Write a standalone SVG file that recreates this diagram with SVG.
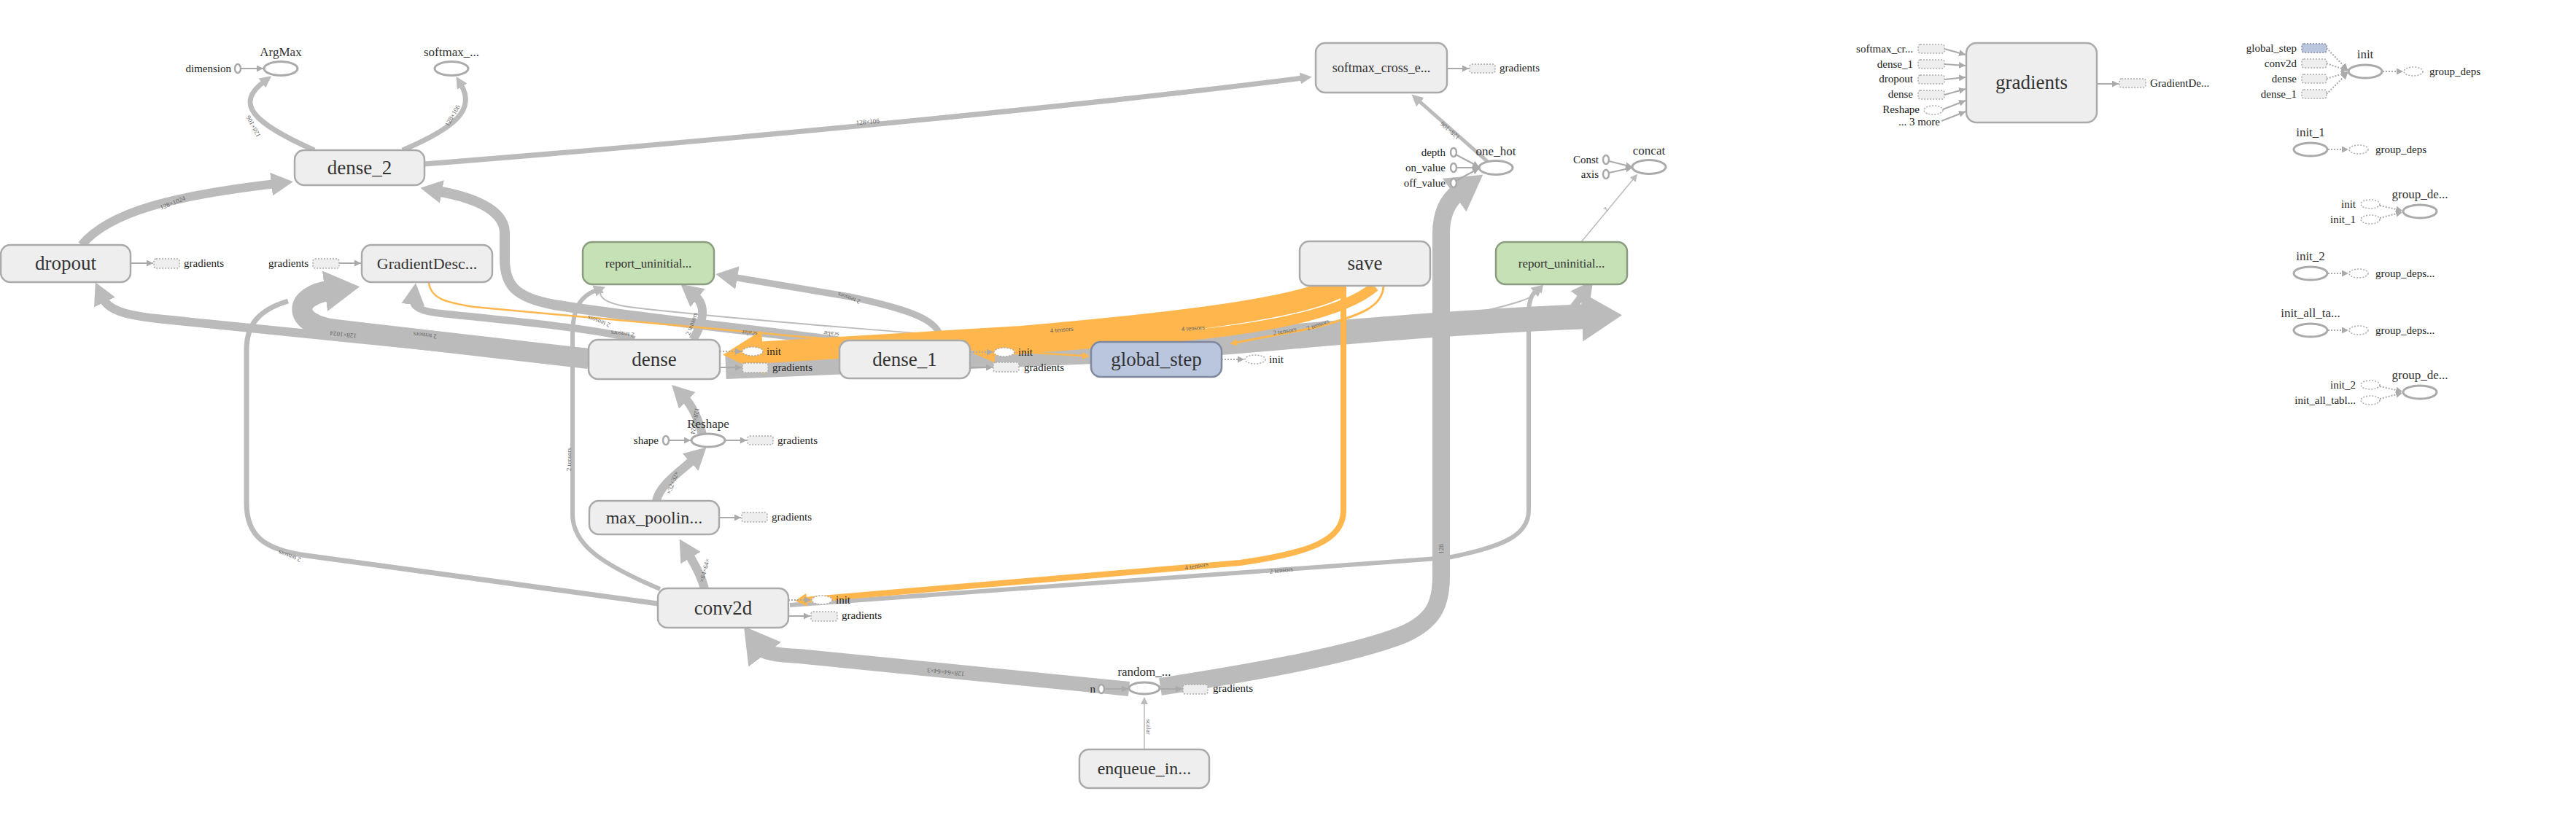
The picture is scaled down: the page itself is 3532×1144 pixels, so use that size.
<svg xmlns="http://www.w3.org/2000/svg" width="3532" height="1144" viewBox="0 0 3532 1144">
<style>
text{font-family:"Liberation Serif","Times New Roman",serif}
.nl{fill:#333;text-anchor:middle}
.sl{fill:#222;font-size:15px}
.sr{fill:#222;font-size:15px;text-anchor:end}
.el{fill:#666;font-size:9px;text-anchor:middle}
.meta{fill:#eeeeee;stroke:#aaaaaa;stroke-width:2.5}
.grn{fill:#c5e1b5;stroke:#8b9d80;stroke-width:2.5}
.blu{fill:#bac5de;stroke:#7f889f;stroke-width:2.5}
.op{fill:#fff;stroke:#aaaaaa;stroke-width:3}
.cst{fill:#fff;stroke:#aaaaaa;stroke-width:2.5}
.sr2{fill:#eeeeee;stroke:#aaaaaa;stroke-width:1.5;stroke-dasharray:2 2}
.sbl{fill:#bac5de;stroke:#7f889f;stroke-width:1.5;stroke-dasharray:2 2}
.se{fill:#fff;stroke:#aaaaaa;stroke-width:1.5;stroke-dasharray:2 2}
.sa{fill:none;stroke:#aaaaaa;stroke-width:2;marker-end:url(#sa)}
.sd{fill:none;stroke:#aaaaaa;stroke-width:2;stroke-dasharray:2 2;marker-end:url(#sa)}
.e{fill:none;stroke:#bbbbbb}
.o{fill:none;stroke:#ffb74d}
</style>
<defs>
<marker id="sa" markerUnits="userSpaceOnUse" markerWidth="9" markerHeight="9" viewBox="0 0 10 10" refX="10" refY="5" orient="auto"><path d="M0,0L10,5L0,10z" fill="#aaaaaa"/></marker>
<marker id="aS" markerUnits="userSpaceOnUse" markerWidth="10" markerHeight="10" viewBox="0 0 10 10" refX="2" refY="5" orient="auto" preserveAspectRatio="none"><path d="M0,0L10,5L0,10z" fill="#bbbbbb"/></marker>
<marker id="aM" markerUnits="userSpaceOnUse" markerWidth="16" markerHeight="16" viewBox="0 0 10 10" refX="2" refY="5" orient="auto" preserveAspectRatio="none"><path d="M0,0L10,5L0,10z" fill="#bbbbbb"/></marker>
<marker id="aL" markerUnits="userSpaceOnUse" markerWidth="30" markerHeight="32" viewBox="0 0 10 10" refX="2" refY="5" orient="auto" preserveAspectRatio="none"><path d="M0,0L10,5L0,10z" fill="#bbbbbb"/></marker>
<marker id="aXL" markerUnits="userSpaceOnUse" markerWidth="48" markerHeight="56" viewBox="0 0 10 10" refX="2" refY="5" orient="auto" preserveAspectRatio="none"><path d="M0,0L10,5L0,10z" fill="#bbbbbb"/></marker>
<marker id="aXXL" markerUnits="userSpaceOnUse" markerWidth="55" markerHeight="68" viewBox="0 0 10 10" refX="2" refY="5" orient="auto" preserveAspectRatio="none"><path d="M0,0L10,5L0,10z" fill="#bbbbbb"/></marker>
<marker id="oS" markerUnits="userSpaceOnUse" markerWidth="10" markerHeight="10" viewBox="0 0 10 10" refX="2" refY="5" orient="auto" preserveAspectRatio="none"><path d="M0,0L10,5L0,10z" fill="#ffb74d"/></marker>
<marker id="oM" markerUnits="userSpaceOnUse" markerWidth="16" markerHeight="18" viewBox="0 0 10 10" refX="2" refY="5" orient="auto" preserveAspectRatio="none"><path d="M0,0L10,5L0,10z" fill="#ffb74d"/></marker>
<marker id="oL" markerUnits="userSpaceOnUse" markerWidth="30" markerHeight="32" viewBox="0 0 10 10" refX="2" refY="5" orient="auto" preserveAspectRatio="none"><path d="M0,0L10,5L0,10z" fill="#ffb74d"/></marker>
<marker id="oXXL" markerUnits="userSpaceOnUse" markerWidth="55" markerHeight="60" viewBox="0 0 10 10" refX="2" refY="5" orient="auto" preserveAspectRatio="none"><path d="M0,0L10,5L0,10z" fill="#ffb74d"/></marker>
</defs>
<rect width="3532" height="1144" fill="#fff"/>

<g id="connectors">
<path class="e" stroke-width="34" marker-end="url(#aXXL)" d="M995,503 L1500,482 C1700,472 1900,445 2180,434"/>
<path class="e" stroke-width="10" marker-end="url(#aL)" d="M2150,430 C2160,418 2167,408 2170,404"/>
<path class="e" stroke-width="7" marker-end="url(#aM)" d="M431,206 C345,168 322,142 362,112"/>
<path class="e" stroke-width="7" marker-end="url(#aM)" d="M552,206 C625,175 652,150 632,116"/>
<path class="e" stroke-width="7" marker-end="url(#aM)" d="M582,225 C900,200 1450,150 1786,107"/>
<path class="e" stroke-width="12" marker-end="url(#aL)" d="M112,336 C150,290 240,268 378,252"/>
<path class="e" stroke-width="14" marker-end="url(#aL)" d="M1160,470 C1060,455 900,440 760,418 C705,408 692,390 692,355 L692,320 C692,290 655,272 600,262"/>
<path class="e" stroke-width="12" marker-end="url(#aL)" d="M807,497 L215,437 C168,432 148,424 141,409"/>
<path class="e" stroke-width="7" d="M902,828 L420,762 C362,754 338,735 338,690 L338,480 C338,445 355,425 395,413"/>
<path class="e" stroke-width="28" marker-end="url(#aXL)" d="M807,492 L460,452 C400,445 400,405 455,398"/>
<path class="e" stroke-width="10" marker-end="url(#aL)" d="M870,466 C830,452 700,440 605,430 C575,427 566,420 567,412"/>
<path class="e" stroke-width="6" marker-end="url(#aM)" d="M905,808 C820,772 785,745 785,705 L785,460 C785,420 798,405 818,398"/>
<path class="e" stroke-width="12" marker-end="url(#aL)" d="M950,466 C966,440 968,418 952,405"/>
<path class="e" stroke-width="9" marker-end="url(#aL)" d="M1290,467 C1290,440 1250,425 1165,407 L1005,380"/>
<path class="e" stroke-width="2" marker-end="url(#aS)" d="M1500,474 C1300,462 1000,437 870,422 C835,418 822,410 823,400"/>
<path class="e" stroke-width="6" marker-end="url(#aM)" d="M1083,830 L1985,765 C2060,750 2096,735 2096,700 L2096,430 C2096,412 2100,404 2106,399"/>
<path class="e" stroke-width="2" marker-end="url(#aS)" d="M1676,479 L1800,463 C1950,447 2050,425 2085,413 C2100,408 2108,402 2111,398"/>
<path class="e" stroke-width="24" marker-end="url(#aXL)" d="M1591,942 C1700,925 1850,900 1925,870 C1965,852 1976,830 1976,790 L1976,320 C1976,290 1988,272 2002,262"/>
<path class="e" stroke-width="20" marker-end="url(#aXL)" d="M1548,945 L1095,900 Q1049,898 1043,890"/>
<path class="e" stroke-width="1.5" marker-end="url(#aS)" d="M1569,1028 L1569,964"/>
<path class="e" stroke-width="12" marker-end="url(#aL)" d="M966,807 C960,785 950,770 944,760"/>
<path class="e" stroke-width="12" marker-end="url(#aL)" d="M900,687 C904,665 935,645 951,630"/>
<path class="e" stroke-width="12" marker-end="url(#aL)" d="M963,596 C958,575 948,555 938,545"/>
<path class="e" stroke-width="1.5" marker-end="url(#aS)" d="M2168,332 L2240,245"/>
<path class="e" stroke-width="5" marker-end="url(#aM)" d="M2040,222 L1945,138"/>
<path class="o" stroke-width="2.5" marker-end="url(#oS)" d="M588,387 C590,410 612,415 650,421 L1100,462 C1300,478 1400,483 1486,488"/>
<path class="o" stroke-width="30" marker-end="url(#oXXL)" d="M1838,392 C1790,420 1650,440 1400,462 L1035,484"/>
<path class="o" stroke-width="14" marker-end="url(#oL)" d="M1885,393 C1840,432 1720,455 1560,466 L1357,482"/>
<path class="o" stroke-width="3" marker-end="url(#oS)" d="M1897,393 C1895,420 1870,432 1800,450 L1694,470"/>
<path class="o" stroke-width="8" marker-end="url(#oM)" d="M1842,392 L1842,700 C1842,740 1800,758 1700,772 L1103,823"/>
<text class="el" transform="translate(350,172) rotate(242)">128×106</text>
<text class="el" transform="translate(623,160) rotate(-60)">128×106</text>
<text class="el" transform="translate(1190,170) rotate(-5)">128×106</text>
<text class="el" transform="translate(238,281) rotate(-22)">128×1024</text>
<text class="el" transform="translate(1990,177) rotate(221)">128×106</text>
<text class="el" transform="translate(471,456) rotate(186)">128×1024</text>
<text class="el" transform="translate(583,457) rotate(186)">2 tensors</text>
<text class="el" transform="translate(822,438) rotate(200)">2 tensors</text>
<text class="el" transform="translate(854,455) rotate(186)">2 tensors</text>
<text class="el" transform="translate(951,445) rotate(-70)">2 tensors</text>
<text class="el" transform="translate(1165,406) rotate(200)">2 tensors</text>
<text class="el" transform="translate(1028,454) rotate(186)">scalar</text>
<text class="el" transform="translate(1140,455) rotate(186)">scalar</text>
<text class="el" transform="translate(1456,455) rotate(-5)">4 tensors</text>
<text class="el" transform="translate(1636,453) rotate(-5)">4 tensors</text>
<text class="el" transform="translate(1762,457) rotate(-10)">2 tensors</text>
<text class="el" transform="translate(1808,448) rotate(-20)">2 tensors</text>
<text class="el" transform="translate(398,760) rotate(200)">2 tensors</text>
<text class="el" transform="translate(783,630) rotate(-90)">2 tensors</text>
<text class="el" transform="translate(950,577) rotate(100)">128×1024</text>
<text class="el" transform="translate(925,663) rotate(-70)">×32×32×</text>
<text class="el" transform="translate(969,783) rotate(-75)">×64×64×</text>
<text class="el" transform="translate(1297,919) rotate(186)">128×64×64×3</text>
<text class="el" transform="translate(1641,779) rotate(-10)">4 tensors</text>
<text class="el" transform="translate(1757,785) rotate(-6)">2 tensors</text>
<text class="el" transform="translate(1979,753) rotate(-90)">128</text>
<text class="el" transform="translate(1572,997) rotate(90)">scalar</text>
<text class="el" transform="translate(2204,289) rotate(-50)">?</text>
</g>

<g id="node-dense_2"><rect class="meta" x="404" y="206" width="178" height="48" rx="13"/><text class="nl" x="493" y="239" font-size="27">dense_2</text></g>
<g id="node-dropout"><rect class="meta" x="1" y="336" width="178" height="51" rx="13"/><text class="nl" x="90" y="370" font-size="27">dropout</text>
<line class="sa" x1="179" y1="361" x2="210" y2="361"/><rect class="sr2" x="211" y="355" width="35" height="13" rx="3"/><text class="sl" x="252" y="366">gradients</text></g>
<g id="node-GradientDescent"><rect class="meta" x="496" y="336" width="179" height="51" rx="13"/><text class="nl" x="585.5" y="369" font-size="22">GradientDesc...</text>
<text class="sr" x="423" y="366">gradients</text><rect class="sr2" x="429" y="355" width="36" height="13" rx="3"/><line class="sa" x1="465" y1="361" x2="495" y2="361"/></g>
<g id="node-ArgMax"><ellipse class="op" cx="385" cy="94" rx="23" ry="9.5"/><text class="nl" x="385" y="77" font-size="17">ArgMax</text>
<ellipse class="cst" cx="326" cy="94" rx="4" ry="6"/><text class="sr" x="317" y="99">dimension</text><line class="sa" x1="330" y1="94" x2="361" y2="94"/></g>
<g id="node-softmax"><ellipse class="op" cx="619" cy="94" rx="23" ry="9.5"/><text class="nl" x="619" y="77" font-size="17">softmax_...</text></g>
<g id="node-softmax_cross_e"><rect class="meta" x="1804" y="59" width="180" height="68" rx="13"/><text class="nl" x="1894" y="99" font-size="18">softmax_cross_e...</text>
<line class="sa" x1="1984" y1="94" x2="2014" y2="94"/><rect class="sr2" x="2015" y="88" width="35" height="12" rx="3"/><text class="sl" x="2056" y="98">gradients</text></g>
<g id="node-one_hot"><ellipse class="op" cx="2051" cy="230" rx="23" ry="9.5"/><text class="nl" x="2051" y="213" font-size="17">one_hot</text>
<ellipse class="cst" cx="1993" cy="209" rx="4" ry="6"/><ellipse class="cst" cx="1993" cy="230" rx="4" ry="6"/><ellipse class="cst" cx="1993" cy="251" rx="4" ry="6"/>
<text class="sr" x="1982" y="214">depth</text><text class="sr" x="1982" y="235">on_value</text><text class="sr" x="1982" y="256">off_value</text>
<line class="sa" x1="1996" y1="212" x2="2028" y2="229"/><line class="sa" x1="1997" y1="230" x2="2028" y2="230"/><line class="sa" x1="1996" y1="248" x2="2028" y2="231"/></g>
<g id="node-concat"><ellipse class="op" cx="2261" cy="229" rx="23" ry="9.5"/><text class="nl" x="2261" y="212" font-size="17">concat</text>
<ellipse class="cst" cx="2202" cy="219" rx="4" ry="6"/><ellipse class="cst" cx="2202" cy="239" rx="4" ry="6"/>
<text class="sr" x="2192" y="224">Const</text><text class="sr" x="2192" y="244">axis</text>
<line class="sa" x1="2206" y1="221" x2="2238" y2="229"/><line class="sa" x1="2206" y1="237" x2="2238" y2="230"/></g>
<g id="node-report_uninitialized_1"><rect class="grn" x="2051" y="332" width="180" height="58" rx="13"/><text class="nl" x="2141" y="367" font-size="17">report_uninitial...</text></g>
<g id="node-save"><rect class="meta" x="1782" y="331" width="179" height="61" rx="13"/><text class="nl" x="1871.5" y="370" font-size="27">save</text></g>
<g id="node-report_uninitialized"><rect class="grn" x="799" y="332" width="180" height="58" rx="13"/><text class="nl" x="889" y="367" font-size="17">report_uninitial...</text></g>
<g id="node-dense"><rect class="meta" x="807" y="466" width="180" height="54" rx="13"/><text class="nl" x="897" y="502" font-size="27">dense</text>
<line class="sd" x1="987" y1="482" x2="1017" y2="482"/><ellipse class="se" cx="1032" cy="482" rx="14" ry="6"/><text class="sl" x="1051" y="487">init</text>
<line class="sa" x1="987" y1="504" x2="1017" y2="504"/><rect class="sr2" x="1018" y="498" width="35" height="13" rx="3"/><text class="sl" x="1059" y="509">gradients</text></g>
<g id="node-dense_1"><rect class="meta" x="1151" y="467" width="179" height="52" rx="13"/><text class="nl" x="1240.5" y="502" font-size="27">dense_1</text>
<line class="sd" x1="1330" y1="483" x2="1362" y2="483"/><ellipse class="se" cx="1377" cy="483" rx="14" ry="6"/><text class="sl" x="1396" y="488">init</text>
<line class="sa" x1="1330" y1="504" x2="1361" y2="504"/><rect class="sr2" x="1362" y="497" width="35" height="13" rx="3"/><text class="sl" x="1404" y="509">gradients</text></g>
<g id="node-global_step"><rect class="blu" x="1496" y="469" width="179" height="48" rx="13"/><text class="nl" x="1585.5" y="502" font-size="27">global_step</text>
<line class="sd" x1="1675" y1="493" x2="1706" y2="493"/><ellipse class="se" cx="1721" cy="493" rx="14" ry="6"/><text class="sl" x="1740" y="498">init</text></g>
<g id="node-Reshape"><ellipse class="op" cx="971" cy="604" rx="23" ry="9"/><text class="nl" x="971" y="587" font-size="17">Reshape</text>
<ellipse class="cst" cx="913" cy="604" rx="4" ry="6"/><text class="sr" x="903" y="609">shape</text><line class="sa" x1="917" y1="604" x2="947" y2="604"/>
<line class="sa" x1="994" y1="604" x2="1024" y2="604"/><rect class="sr2" x="1025" y="598" width="35" height="12" rx="3"/><text class="sl" x="1066" y="609">gradients</text></g>
<g id="node-max_pooling"><rect class="meta" x="808" y="687" width="178" height="46" rx="13"/><text class="nl" x="897" y="718" font-size="24">max_poolin...</text>
<line class="sa" x1="986" y1="710" x2="1016" y2="710"/><rect class="sr2" x="1017" y="703" width="35" height="13" rx="3"/><text class="sl" x="1058" y="714">gradients</text></g>
<g id="node-conv2d"><rect class="meta" x="902" y="807" width="179" height="54" rx="13"/><text class="nl" x="991.5" y="843" font-size="27">conv2d</text>
<line class="sd" x1="1081" y1="823" x2="1112" y2="823"/><ellipse class="se" cx="1127" cy="823" rx="14" ry="6"/><text class="sl" x="1146" y="828">init</text>
<line class="sa" x1="1081" y1="845" x2="1111" y2="845"/><rect class="sr2" x="1112" y="839" width="36" height="13" rx="3"/><text class="sl" x="1154" y="849">gradients</text></g>
<g id="node-random"><ellipse class="op" cx="1569" cy="944" rx="21" ry="8"/><text class="nl" x="1569" y="927" font-size="17">random_...</text>
<ellipse class="cst" cx="1510" cy="945" rx="4" ry="6"/><text class="sr" x="1502" y="950">n</text><line class="sa" x1="1514" y1="945" x2="1547" y2="945"/>
<line class="sa" x1="1590" y1="945" x2="1621" y2="945"/><rect class="sr2" x="1622" y="939" width="34" height="13" rx="3"/><text class="sl" x="1663" y="949">gradients</text></g>
<g id="node-enqueue"><rect class="meta" x="1480" y="1028" width="178" height="53" rx="13"/><text class="nl" x="1569" y="1062" font-size="24">enqueue_in...</text></g>

<g id="node-gradients"><rect class="meta" x="2696" y="59" width="179" height="109" rx="14"/><text class="nl" x="2785.5" y="122" font-size="27">gradients</text>
<text class="sr" x="2623" y="72">softmax_cr...</text><text class="sr" x="2623" y="93">dense_1</text><text class="sr" x="2623" y="113">dropout</text><text class="sr" x="2623" y="134">dense</text><text class="sr" x="2632" y="155">Reshape</text><text class="sr" x="2660" y="172">... 3 more</text>
<rect class="sr2" x="2630" y="61" width="36" height="12" rx="3"/><rect class="sr2" x="2630" y="82" width="36" height="12" rx="3"/><rect class="sr2" x="2630" y="103" width="36" height="12" rx="3"/><rect class="sr2" x="2630" y="124" width="36" height="12" rx="3"/><ellipse class="se" cx="2651" cy="151" rx="13" ry="6"/>
<line class="sa" x1="2666" y1="67" x2="2695" y2="75"/><line class="sa" x1="2666" y1="88" x2="2695" y2="90"/><line class="sa" x1="2666" y1="109" x2="2695" y2="106"/><line class="sa" x1="2666" y1="130" x2="2695" y2="122"/><line class="sa" x1="2664" y1="150" x2="2695" y2="138"/><line class="sa" x1="2662" y1="166" x2="2695" y2="153"/>
<line class="sa" x1="2875" y1="115" x2="2905" y2="115"/><rect class="sr2" x="2906" y="108" width="36" height="12" rx="3"/><text class="sl" x="2948" y="119">GradientDe...</text></g>

<g id="node-init"><ellipse class="op" cx="3243" cy="98" rx="23" ry="9"/><text class="nl" x="3243" y="80" font-size="17">init</text>
<text class="sr" x="3149" y="71">global_step</text><text class="sr" x="3149" y="92">conv2d</text><text class="sr" x="3149" y="113">dense</text><text class="sr" x="3149" y="134">dense_1</text>
<rect class="sbl" x="3156" y="60" width="34" height="12" rx="3"/><rect class="sr2" x="3156" y="81" width="34" height="12" rx="3"/><rect class="sr2" x="3156" y="102" width="34" height="12" rx="3"/><rect class="sr2" x="3156" y="123" width="34" height="12" rx="3"/>
<line class="sd" x1="3190" y1="66" x2="3219" y2="96"/><line class="sd" x1="3190" y1="87" x2="3219" y2="97"/><line class="sd" x1="3190" y1="108" x2="3219" y2="99"/><line class="sd" x1="3190" y1="129" x2="3219" y2="100"/>
<line class="sd" x1="3267" y1="98" x2="3295" y2="98"/><ellipse class="se" cx="3309" cy="98" rx="13" ry="6"/><text class="sl" x="3331" y="103">group_deps</text></g>
<g id="node-init_1"><ellipse class="op" cx="3168" cy="205" rx="23" ry="9"/><text class="nl" x="3168" y="187" font-size="17">init_1</text>
<line class="sd" x1="3192" y1="205" x2="3220" y2="205"/><ellipse class="se" cx="3234" cy="205" rx="13" ry="6"/><text class="sl" x="3257" y="210">group_deps</text></g>
<g id="node-group_deps_1"><ellipse class="op" cx="3318" cy="290" rx="23" ry="9"/><text class="nl" x="3318" y="272" font-size="17">group_de...</text>
<text class="sr" x="3230" y="285">init</text><text class="sr" x="3230" y="306">init_1</text>
<ellipse class="se" cx="3250" cy="280" rx="13" ry="6"/><ellipse class="se" cx="3250" cy="301" rx="13" ry="6"/>
<line class="sd" x1="3263" y1="282" x2="3294" y2="289"/><line class="sd" x1="3263" y1="299" x2="3294" y2="291"/></g>
<g id="node-init_2"><ellipse class="op" cx="3168" cy="375" rx="23" ry="9"/><text class="nl" x="3168" y="357" font-size="17">init_2</text>
<line class="sd" x1="3192" y1="375" x2="3220" y2="375"/><ellipse class="se" cx="3234" cy="375" rx="13" ry="6"/><text class="sl" x="3257" y="380">group_deps...</text></g>
<g id="node-init_all_tables"><ellipse class="op" cx="3168" cy="453" rx="23" ry="9"/><text class="nl" x="3168" y="435" font-size="17">init_all_ta...</text>
<line class="sd" x1="3192" y1="453" x2="3220" y2="453"/><ellipse class="se" cx="3234" cy="453" rx="13" ry="6"/><text class="sl" x="3257" y="458">group_deps...</text></g>
<g id="node-group_deps_2"><ellipse class="op" cx="3318" cy="538" rx="23" ry="9"/><text class="nl" x="3318" y="520" font-size="17">group_de...</text>
<text class="sr" x="3230" y="533">init_2</text><text class="sr" x="3230" y="554">init_all_tabl...</text>
<ellipse class="se" cx="3250" cy="528" rx="13" ry="6"/><ellipse class="se" cx="3250" cy="549" rx="13" ry="6"/>
<line class="sd" x1="3263" y1="530" x2="3294" y2="537"/><line class="sd" x1="3263" y1="547" x2="3294" y2="539"/></g>
</svg>
